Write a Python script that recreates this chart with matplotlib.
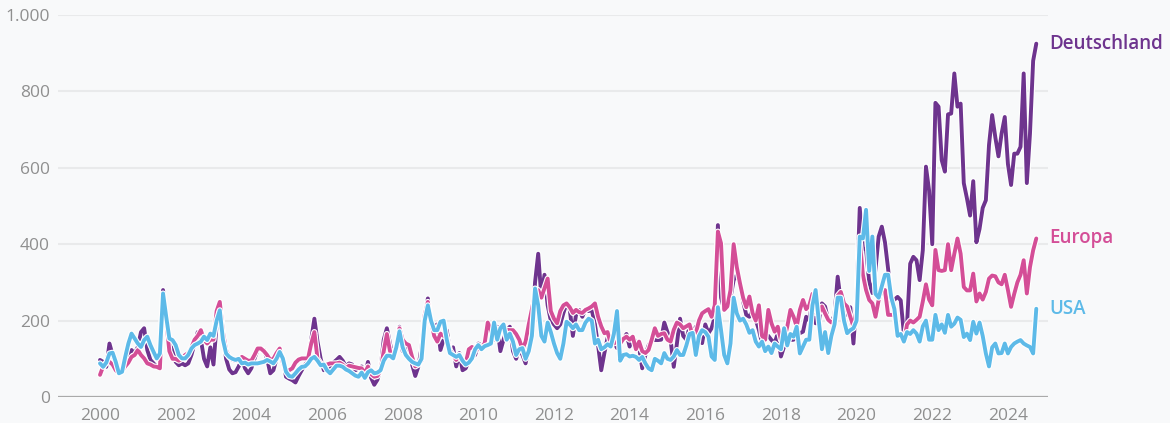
import matplotlib
matplotlib.use("Agg")
import matplotlib.pyplot as plt
import matplotlib.patheffects as pe
import numpy as np

# ---- data (monthly, Jan 2000 - Oct 2024) ----
deutschland = [
    97, 92, 79, 140, 110, 88, 62, 70, 97, 114, 123, 114,      # 2000
    131, 170, 180, 123, 97, 88, 79, 88, 280, 201, 140, 123,   # 2001
    92, 83, 88, 83, 88, 110, 140, 170, 150, 100, 80, 130,     # 2002
    85, 190, 236, 160, 100, 72, 62, 65, 80, 100, 75, 62,      # 2003
    75, 100, 123, 123, 123, 100, 62, 70, 100, 125, 100, 53,   # 2004
    48, 44, 38, 55, 70, 85, 92, 150, 205, 145, 100, 70,       # 2005
    75, 80, 90, 97, 105, 95, 80, 88, 85, 70, 75, 80,          # 2006
    55, 92, 50, 32, 45, 75, 150, 180, 140, 100, 130, 184,     # 2007
    120, 125, 130, 85, 55, 80, 130, 215, 258, 190, 185, 190,  # 2008
    123, 150, 175, 120, 130, 80, 115, 70, 75, 95, 105, 110,   # 2009
    140, 135, 136, 136, 138, 170, 184, 120, 150, 175, 184, 120,  # 2010
    100, 128, 110, 88, 130, 170, 300, 375, 262, 320, 240, 200,   # 2011
    190, 180, 190, 220, 245, 230, 160, 215, 228, 210, 230, 225,  # 2012
    228, 190, 135, 70, 115, 155, 155, 145, 128, 140, 150, 165,   # 2013
    132, 155, 145, 130, 75, 110, 135, 149, 149, 149, 150, 195,   # 2014
    170, 149, 79, 140, 205, 160, 150, 184, 167, 184, 150, 141,   # 2015
    190, 167, 180, 210, 450, 260, 228, 240, 260, 306, 320, 300,  # 2016
    250, 215, 210, 228, 202, 176, 141, 160, 160, 149, 141, 167,  # 2017
    106, 132, 145, 149, 150, 160, 167, 171, 210, 200, 254, 193,  # 2018
    193, 245, 237, 200, 195, 215, 315, 250, 220, 215, 235, 140,  # 2019
    260, 495, 390, 385, 300, 272, 335, 420, 446, 405, 335, 250,  # 2020
    255, 262, 253, 165, 190, 349, 367, 358, 306, 384, 603, 540,  # 2021
    400, 770, 760, 620, 590, 740, 742, 847, 760, 768, 560, 520,  # 2022
    475, 565, 405, 440, 495, 515, 660, 738, 680, 630, 690, 733,  # 2023
    610, 555, 637, 637, 655, 847, 560, 690, 880, 925,            # 2024
]
europa = [
    58, 80, 90, 92, 85, 70, 62, 68, 80, 90, 105, 110,
    123, 110, 101, 88, 85, 80, 79, 75, 260, 200, 120, 100,
    100, 95, 100, 110, 115, 130, 150, 160, 175, 150, 140, 150,
    150, 225, 249, 170, 123, 105, 97, 95, 95, 105, 100, 95,
    95, 110, 127, 127, 120, 110, 97, 100, 115, 127, 90, 70,
    70, 75, 90, 98, 101, 101, 101, 140, 170, 100, 88, 82,
    85, 88, 88, 88, 90, 85, 76, 82, 80, 78, 76, 75,
    62, 80, 60, 53, 55, 70, 120, 165, 120, 105, 130, 180,
    150, 140, 136, 105, 80, 85, 95, 215, 249, 200, 160, 145,
    166, 160, 155, 123, 110, 97, 110, 95, 88, 125, 131, 123,
    125, 131, 140, 195, 175, 150, 166, 172, 179, 176, 175, 175,
    165, 150, 125, 145, 190, 230, 270, 280, 260, 285, 310, 225,
    205, 193, 225, 240, 245, 235, 220, 228, 222, 220, 228, 232,
    237, 245, 210, 185, 167, 170, 140, 140, 145, 140, 152, 158,
    150, 158, 125, 145, 120, 115, 123, 150, 180, 160, 165, 167,
    150, 145, 176, 195, 190, 180, 185, 190, 160, 167, 200, 219,
    225, 230, 210, 240, 433, 402, 228, 237, 280, 400, 340, 298,
    260, 235, 263, 220, 200, 240, 160, 150, 228, 193, 171, 184,
    149, 150, 184, 228, 210, 184, 228, 254, 230, 240, 270, 220,
    219, 237, 219, 202, 195, 200, 265, 275, 245, 237, 210, 184,
    230, 411, 320, 280, 254, 245, 210, 254, 280, 280, 215, 215,
    215, 170, 160, 145, 190, 200, 195, 202, 210, 250, 295, 255,
    240, 385, 332, 330, 332, 400, 332, 375, 415, 375, 288, 279,
    279, 323, 250, 271, 255, 275, 310, 318, 316, 300, 295, 320,
    280, 236, 270, 300, 320, 358, 271, 340, 384, 415,
]
usa = [
    88, 79, 90, 114, 116, 92, 62, 66, 105, 140, 166, 153,
    140, 131, 149, 158, 136, 118, 101, 114, 271, 210, 153, 149,
    136, 110, 101, 101, 110, 127, 136, 140, 145, 158, 149, 166,
    160, 200, 227, 150, 114, 105, 100, 97, 100, 88, 90, 85,
    88, 88, 88, 90, 92, 97, 93, 88, 100, 118, 101, 66,
    55, 53, 62, 72, 79, 80, 88, 100, 105, 95, 83, 85,
    70, 62, 72, 82, 82, 79, 72, 68, 62, 56, 53, 64,
    50, 65, 70, 62, 64, 70, 95, 108, 108, 101, 130, 172,
    130, 110, 100, 92, 88, 85, 100, 200, 240, 200, 175, 175,
    197, 200, 150, 115, 110, 105, 110, 95, 85, 90, 101, 125,
    136, 125, 133, 136, 140, 195, 150, 180, 190, 150, 166, 145,
    110, 125, 128, 100, 120, 160, 284, 240, 160, 145, 195, 170,
    140, 115, 100, 140, 197, 190, 180, 190, 175, 175, 195, 205,
    200, 140, 150, 125, 130, 138, 132, 165, 225, 95, 110, 112,
    106, 108, 105, 97, 105, 88, 75, 70, 100, 95, 88, 115,
    100, 97, 106, 123, 110, 110, 135, 165, 168, 110, 160, 175,
    170, 158, 106, 97, 235, 175, 110, 88, 140, 260, 219, 200,
    205, 190, 168, 175, 145, 132, 145, 120, 132, 115, 140, 132,
    125, 180, 135, 165, 158, 184, 114, 132, 150, 150, 240, 280,
    200, 125, 170, 115, 160, 190, 260, 260, 200, 167, 175, 180,
    200, 420, 415, 490, 330, 420, 270, 260, 290, 320, 320, 260,
    230, 160, 165, 145, 170, 165, 175, 166, 145, 185, 200, 150,
    150, 215, 175, 190, 168, 215, 184, 192, 208, 202, 157, 166,
    149, 197, 166, 195, 160, 114, 80, 130, 140, 114, 115, 140,
    114, 131, 140, 145, 149, 140, 135, 131, 114, 231,
]
series_names = ["Deutschland", "Europa", "USA"]
x_ticks = list(range(2000, 2025, 2))
y_ticks = [0, 200, 400, 600, 800, 1000]
y_labels = ["0", "200", "400", "600", "800", "1.000"]

colors = {"Deutschland": "#6E348E", "Europa": "#D44E97", "USA": "#5DBAE8"}

# ---- figure ----
plt.rcParams["font.family"] = ["Open Sans", "DejaVu Sans"]
W, H = 1170, 423
fig = plt.figure(figsize=(W / 100, H / 100), dpi=100)
bg = "#F8F9FA"
fig.patch.set_facecolor(bg)
ax = fig.add_axes([58 / W, 1 - 397 / H, (1048 - 58) / W, (397 - 15) / H])
ax.set_facecolor(bg)

data = {"Deutschland": deutschland, "Europa": europa, "USA": usa}
for i, name in enumerate(series_names):
    vals = data[name]
    tt = 2000 + np.arange(len(vals)) / 12.0
    ax.plot(tt, vals, color=colors[name], lw=2.8, solid_joinstyle="round",
            solid_capstyle="round", zorder=3 + i,
            path_effects=[pe.Stroke(linewidth=4.4, foreground="white"), pe.Normal()])
    ax.annotate(name, xy=(tt[-1], vals[-1]), xytext=(9.5, 0), textcoords="offset points",
                va="center", ha="left", fontsize=13.5, fontweight="semibold",
                color=colors[name], annotation_clip=False)

ppy = 37.83
ax.set_xlim(2000 - 42 / ppy, 2000 + 948 / ppy)
ax.set_ylim(0, 1000)
ax.set_xticks(x_ticks)
ax.set_xticklabels([str(v) for v in x_ticks])
ax.set_yticks(y_ticks)
ax.set_yticklabels(y_labels)
ax.tick_params(axis="both", length=0, colors="#8F8F8F", labelsize=12.5)
ax.tick_params(axis="x", pad=8)
ax.tick_params(axis="y", pad=6)
for s in ax.spines.values():
    s.set_visible(False)
ax.grid(axis="y", color="#E9EAEB", lw=1.5, zorder=0)
ax.grid(axis="x", visible=False)
ax.axhline(0, color="#AAAAAA", lw=1.6, zorder=2)

fig.savefig("out.png", dpi=100, facecolor=bg)
